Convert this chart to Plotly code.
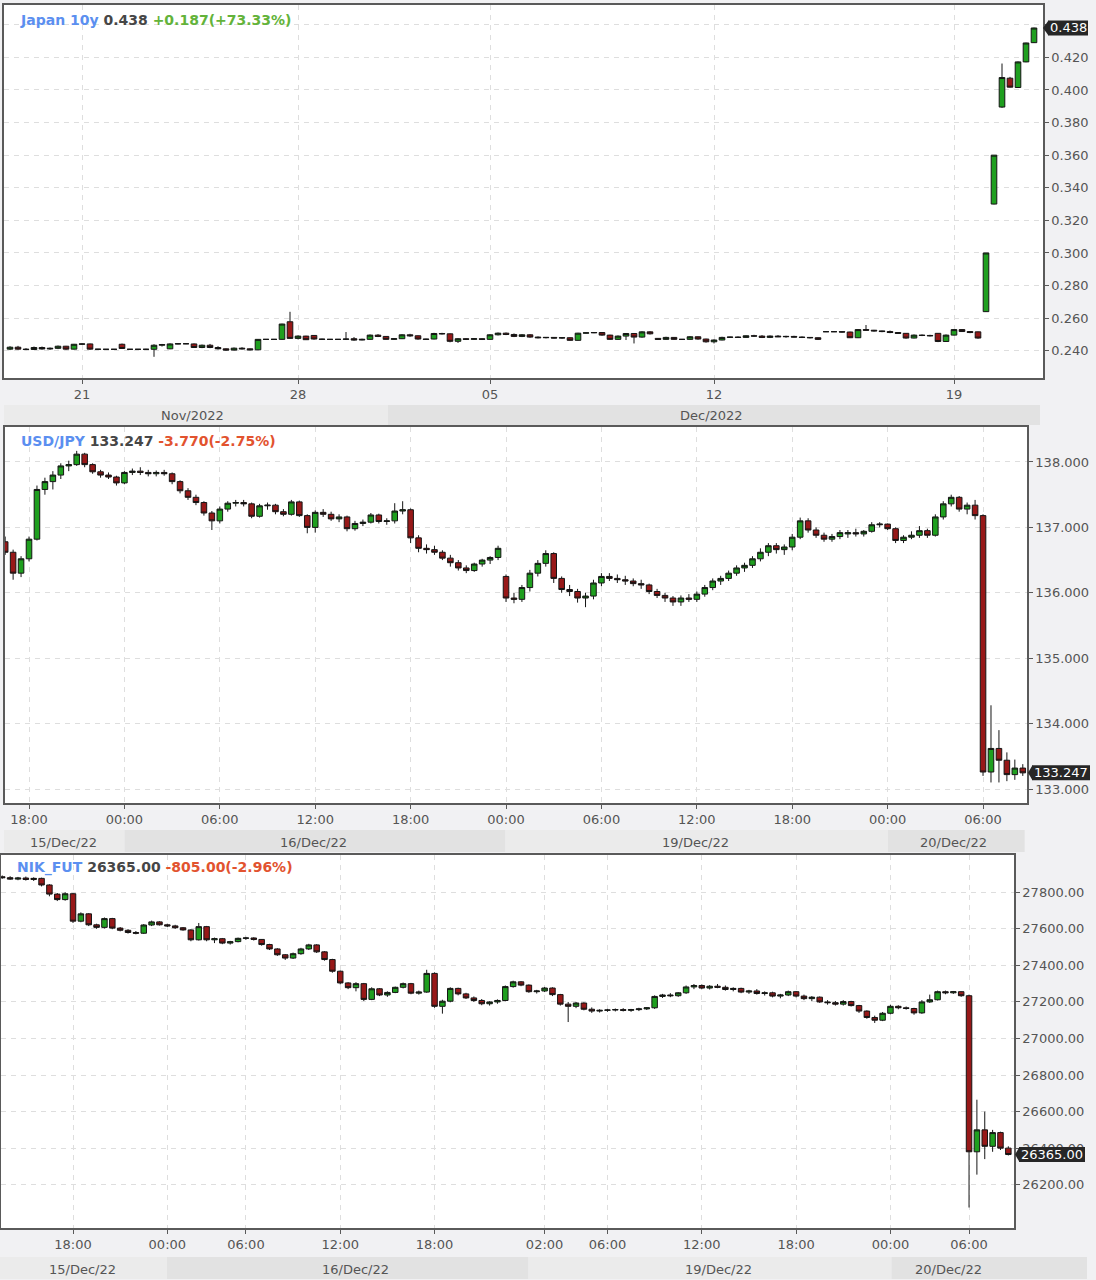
import plotly.graph_objects as go
import pandas as pd

W, H = 1096, 1280


def px(x):
    return x / W


def py(y):
    return 1 - y / H


# ======================= DATA =======================
# ---- Panel 1 : Japan 10y (bar sequence) ----
jgb_open = [.2410,.2422,.2410,.2408,.2420,.2411,.2415,.2428,.2410,.2440,
            .2442,.2410,.2409,.2409,.2440,.2409,.2409,.2409,.2409,.2434,
            .2412,.2442,.2443,.2442,.2420,.2434,.2420,.2412,.2404,.2416,
            .2412,.2406,.2470,.2470,.2470,.2578,.2476,.2490,.2494,.2472,
            .2470,.2470,.2470,.2474,.2466,.2470,.2496,.2488,.2470,.2474,
            .2498,.2492,.2472,.2472,.2506,.2504,.2458,.2474,.2470,.2474,
            .2470,.2498,.2508,.2500,.2488,.2498,.2484,.2480,.2482,.2478,
            .2480,.2464,.2508,.2510,.2512,.2496,.2470,.2490,.2506,.2484,
            .2516,.2476,.2470,.2482,.2470,.2470,.2486,.2472,.2455,.2466,
            .2482,.2484,.2482,.2492,.2490,.2482,.2490,.2486,.2488,.2484,
            .2482,.2480,.2517,.2517,.2517,.2515,.2480,.2530,.2526,.2522,
            .2518,.2512,.2507,.2478,.2496,.2494,.2507,.2457,.2496,.2530,
            .2518,.2516,.2640,.3300,.3895,.4072,.4015,.4172,.4290]
jgb_high = [.2428,.2430,.2416,.2426,.2426,.2420,.2432,.2430,.2442,.2446,
            .2444,.2411,.2409,.2409,.2444,.2409,.2409,.2412,.2440,.2442,
            .2446,.2445,.2445,.2445,.2438,.2442,.2428,.2415,.2420,.2422,
            .2414,.2472,.2470,.2470,.2566,.2639,.2494,.2492,.2496,.2474,
            .2470,.2470,.2515,.2484,.2474,.2500,.2502,.2490,.2478,.2502,
            .2504,.2494,.2474,.2510,.2510,.2506,.2478,.2478,.2478,.2476,
            .2502,.2512,.2512,.2506,.2502,.2502,.2488,.2484,.2484,.2484,
            .2482,.2510,.2512,.2514,.2514,.2498,.2494,.2508,.2508,.2520,
            .2520,.2478,.2486,.2484,.2472,.2490,.2488,.2474,.2470,.2486,
            .2486,.2488,.2494,.2498,.2496,.2494,.2496,.2492,.2492,.2488,
            .2484,.2482,.2519,.2519,.2520,.2517,.2533,.2558,.2528,.2524,
            .2524,.2514,.2509,.2500,.2500,.2498,.2509,.2500,.2533,.2532,
            .2520,.2518,.3000,.3600,.4162,.4080,.4175,.4290,.4382]
jgb_low = [.2404,.2406,.2404,.2405,.2407,.2406,.2410,.2406,.2408,.2436,
           .2406,.2408,.2409,.2409,.2412,.2409,.2409,.2406,.2363,.2426,
           .2410,.2440,.2441,.2418,.2416,.2416,.2408,.2400,.2402,.2408,
           .2402,.2404,.2470,.2470,.2468,.2474,.2470,.2466,.2468,.2468,
           .2470,.2470,.2466,.2462,.2464,.2468,.2484,.2468,.2467,.2472,
           .2486,.2468,.2468,.2470,.2500,.2452,.2448,.2466,.2468,.2466,
           .2468,.2494,.2496,.2484,.2484,.2480,.2476,.2476,.2476,.2474,
           .2462,.2462,.2506,.2508,.2492,.2468,.2467,.2466,.2445,.2480,
           .2500,.2469,.2468,.2468,.2468,.2468,.2468,.2450,.2445,.2464,
           .2480,.2480,.2480,.2486,.2478,.2478,.2484,.2480,.2482,.2478,
           .2476,.2466,.2515,.2515,.2512,.2478,.2478,.2524,.2518,.2514,
           .2508,.2504,.2474,.2476,.2490,.2488,.2453,.2455,.2494,.2516,
           .2508,.2474,.2638,.3298,.3890,.4015,.4012,.4170,.4288]
jgb_close = [.2422,.2410,.2408,.2420,.2411,.2415,.2428,.2410,.2440,.2442,
             .2410,.2409,.2409,.2409,.2414,.2409,.2409,.2409,.2434,.2438,
             .2442,.2443,.2443,.2420,.2434,.2420,.2412,.2404,.2416,.2412,
             .2406,.2470,.2470,.2470,.2564,.2476,.2490,.2468,.2472,.2470,
             .2470,.2470,.2472,.2466,.2470,.2496,.2488,.2470,.2474,.2498,
             .2492,.2472,.2470,.2506,.2504,.2458,.2474,.2470,.2474,.2470,
             .2498,.2508,.2500,.2488,.2498,.2484,.2480,.2482,.2478,.2480,
             .2464,.2508,.2510,.2512,.2496,.2470,.2490,.2506,.2484,.2516,
             .2504,.2470,.2482,.2470,.2470,.2486,.2472,.2455,.2466,.2482,
             .2484,.2482,.2492,.2490,.2482,.2490,.2486,.2488,.2484,.2482,
             .2480,.2470,.2517,.2517,.2515,.2480,.2530,.2526,.2522,.2518,
             .2512,.2507,.2478,.2496,.2494,.2492,.2457,.2496,.2530,.2518,
             .2512,.2478,.3000,.3600,.4076,.4017,.4172,.4288,.4380]
jgb_tick_bars = [9, 36, 60, 88, 118]
jgb_tick_text = ["21", "28", "05", "12", "19"]
jgb_yticks = [0.24, 0.26, 0.28, 0.30, 0.32, 0.34, 0.36, 0.38, 0.40, 0.42, 0.44]

# ---- Panel 2 : USD/JPY, 30-minute bars ----
usd_times = (list(pd.date_range("2022-12-15 16:30", "2022-12-16 23:30", freq="30min"))
             + list(pd.date_range("2022-12-19 00:00", "2022-12-20 08:30", freq="30min")))
usd_labels = [t.strftime("%Y-%m-%d %H:%M") for t in usd_times]
usd_open = [136.78,136.62,136.30,136.52,136.82,137.58,137.70,137.80,137.94,137.96,
            138.12,137.96,137.85,137.80,137.77,137.68,137.84,137.86,137.84,137.82,
            137.84,137.82,137.70,137.56,137.46,137.38,137.22,137.10,137.28,137.37,
            137.38,137.36,137.17,137.33,137.34,137.24,137.20,137.39,137.18,137.00,
            137.23,137.20,137.13,137.16,136.98,137.06,137.08,137.19,137.09,137.10,
            137.25,137.27,136.84,136.68,136.66,136.62,136.53,136.46,136.38,136.34,
            136.44,136.50,136.54,136.25,135.92,135.90,136.08,136.30,136.45,136.60,
            136.22,136.05,136.02,135.92,135.95,136.15,136.25,136.22,136.20,136.18,
            136.14,136.12,136.02,135.96,135.92,135.86,135.92,135.90,135.98,136.08,
            136.18,136.22,136.30,136.38,136.42,136.52,136.62,136.72,136.66,136.70,
            136.85,137.10,136.96,136.88,136.82,136.86,136.90,136.92,136.90,136.94,
            137.04,137.05,136.98,136.80,136.85,136.88,136.95,136.88,137.16,137.36,
            137.46,137.28,137.34,137.18,133.26,133.62,133.44,133.22,133.32]
usd_high = [136.86,136.66,136.56,136.86,137.64,137.76,137.86,137.98,138.02,138.17,
            138.14,137.98,137.88,137.84,137.79,137.86,137.90,137.92,137.88,137.87,
            137.88,137.84,137.72,137.60,137.50,137.40,137.25,137.32,137.40,137.42,
            137.42,137.38,137.36,137.38,137.36,137.28,137.42,137.41,137.20,137.26,
            137.28,137.24,137.20,137.18,137.10,137.12,137.22,137.21,137.14,137.37,
            137.40,137.29,136.88,136.74,136.72,136.65,136.58,136.50,136.42,136.46,
            136.52,136.56,136.72,136.28,136.00,136.12,136.35,136.50,136.65,136.62,
            136.25,136.12,136.06,136.00,136.20,136.30,136.30,136.28,136.26,136.22,
            136.20,136.14,136.06,136.00,135.95,135.96,135.98,136.02,136.12,136.22,
            136.26,136.34,136.42,136.46,136.56,136.68,136.76,136.76,136.74,136.90,
            137.15,137.14,137.00,136.92,136.90,136.96,136.96,136.98,136.96,137.08,
            137.08,137.06,137.00,136.88,136.94,137.02,136.98,137.20,137.40,137.50,
            137.48,137.38,137.42,137.20,134.28,133.90,133.56,133.45,133.38]
usd_low = [136.58,136.20,136.24,136.48,136.80,137.50,137.58,137.74,137.86,137.94,
           137.92,137.82,137.76,137.74,137.64,137.66,137.80,137.80,137.78,137.78,
           137.79,137.66,137.52,137.42,137.34,137.18,136.96,137.06,137.24,137.32,
           137.32,137.14,137.15,137.27,137.20,137.17,137.18,137.16,136.91,136.92,
           137.16,137.10,137.08,136.94,136.95,137.02,137.06,137.06,137.04,137.06,
           137.20,136.76,136.62,136.60,136.58,136.50,136.40,136.34,136.30,136.32,
           136.40,136.44,136.50,135.86,135.84,135.86,136.02,136.25,136.40,136.15,
           136.00,135.95,135.85,135.78,135.90,136.10,136.18,136.15,136.12,136.10,
           136.06,135.98,135.92,135.86,135.80,135.80,135.86,135.86,135.94,136.04,
           136.12,136.18,136.26,136.32,136.38,136.48,136.56,136.60,136.58,136.65,
           136.82,136.92,136.84,136.78,136.78,136.82,136.84,136.86,136.86,136.92,
           137.00,136.96,136.76,136.76,136.82,136.84,136.84,136.86,137.12,137.32,
           137.24,137.20,137.12,133.20,133.10,133.10,133.12,133.14,133.20]
usd_close = [136.62,136.30,136.52,136.82,137.58,137.70,137.80,137.94,137.96,138.12,
             137.96,137.85,137.80,137.77,137.68,137.84,137.86,137.84,137.82,137.84,
             137.82,137.70,137.56,137.46,137.38,137.22,137.10,137.28,137.37,137.38,
             137.36,137.17,137.33,137.34,137.24,137.20,137.39,137.18,137.00,137.23,
             137.20,137.13,137.16,136.98,137.06,137.08,137.19,137.09,137.10,137.25,
             137.27,136.84,136.68,136.66,136.62,136.53,136.46,136.38,136.34,136.44,
             136.50,136.54,136.68,135.92,135.90,136.08,136.30,136.45,136.60,136.22,
             136.05,136.02,135.92,135.95,136.15,136.25,136.22,136.20,136.18,136.14,
             136.12,136.02,135.96,135.92,135.86,135.92,135.90,135.98,136.08,136.18,
             136.22,136.30,136.38,136.42,136.52,136.62,136.72,136.66,136.70,136.85,
             137.10,136.96,136.88,136.82,136.86,136.92,136.92,136.90,136.94,137.04,
             137.05,136.98,136.80,136.85,136.88,136.95,136.88,137.16,137.36,137.46,
             137.28,137.34,137.18,133.26,133.62,133.44,133.22,133.32,133.247]
usd_tick_times = ["2022-12-15 18:00", "2022-12-16 00:00", "2022-12-16 06:00", "2022-12-16 12:00",
                  "2022-12-16 18:00", "2022-12-19 00:00", "2022-12-19 06:00", "2022-12-19 12:00",
                  "2022-12-19 18:00", "2022-12-20 00:00", "2022-12-20 06:00"]
usd_yticks = [133, 134, 135, 136, 137, 138]

# ---- Panel 3 : NIK_FUT, 30-minute bars (session gaps removed) ----
nik_times = (list(pd.date_range("2022-12-15 13:30", "2022-12-16 03:30", freq="30min"))
             + list(pd.date_range("2022-12-16 05:00", "2022-12-16 23:30", freq="30min"))
             + list(pd.date_range("2022-12-19 01:00", "2022-12-20 03:30", freq="30min"))
             + list(pd.date_range("2022-12-20 05:00", "2022-12-20 08:30", freq="30min")))
nik_labels = [t.strftime("%Y-%m-%d %H:%M") for t in nik_times]
nik_open = [27885,27880,27872,27878,27870,27876,27840,27790,27760,27792,
            27642,27682,27622,27608,27656,27604,27592,27580,27576,27621,
            27638,27622,27616,27606,27594,27540,27612,27540,27546,27522,
            27530,27548,27550,27542,27514,27490,27458,27440,27464,27490,
            27512,27474,27432,27368,27304,27278,27300,27214,27272,27238,
            27252,27280,27300,27248,27254,27356,27176,27204,27274,27244,
            27222,27208,27190,27200,27208,27284,27310,27292,27256,27260,
            27276,27240,27188,27176,27194,27160,27150,27154,27156,27158,
            27154,27158,27162,27168,27230,27238,27234,27250,27282,27290,
            27276,27286,27280,27268,27274,27254,27260,27246,27250,27232,
            27238,27256,27232,27218,27226,27200,27196,27188,27202,27180,
            27150,27115,27100,27138,27176,27168,27164,27140,27200,27212,
            27256,27250,27256,27234,26380,26500,26410,26485,26400]
nik_high = [27892,27888,27884,27886,27882,27880,27844,27796,27800,27796,
            27690,27686,27628,27662,27660,27610,27598,27588,27626,27645,
            27642,27628,27622,27610,27598,27632,27616,27552,27550,27534,
            27552,27556,27554,27544,27518,27494,27462,27470,27496,27518,
            27516,27478,27436,27372,27308,27308,27304,27280,27276,27258,
            27284,27306,27304,27262,27376,27362,27212,27280,27278,27250,
            27230,27216,27204,27214,27290,27316,27314,27296,27266,27282,
            27280,27244,27200,27200,27198,27170,27160,27162,27164,27166,
            27162,27168,27172,27236,27244,27248,27254,27290,27298,27296,
            27292,27298,27290,27280,27278,27266,27270,27258,27256,27244,
            27262,27260,27240,27232,27230,27210,27205,27210,27206,27184,
            27154,27125,27145,27185,27182,27175,27168,27210,27240,27262,
            27262,27260,27258,27240,26665,26600,26500,26490,26410]
nik_low = [27874,27868,27866,27864,27862,27832,27778,27752,27754,27632,
           27636,27615,27600,27602,27598,27586,27574,27570,27572,27615,
           27618,27610,27600,27590,27532,27536,27532,27522,27516,27514,
           27526,27540,27536,27508,27484,27452,27430,27435,27458,27484,
           27468,27426,27360,27296,27270,27258,27205,27210,27232,27228,
           27248,27274,27242,27240,27250,27168,27136,27198,27236,27216,
           27200,27182,27180,27190,27204,27278,27286,27250,27246,27254,
           27232,27180,27090,27166,27154,27140,27142,27146,27148,27148,
           27146,27150,27156,27162,27222,27226,27228,27244,27270,27270,
           27268,27275,27262,27258,27248,27244,27240,27235,27225,27220,
           27232,27225,27210,27205,27195,27185,27180,27180,27175,27140,
           27108,27085,27095,27132,27160,27158,27130,27135,27195,27208,
           27242,27244,27228,26075,26255,26340,26380,26390,26360]
nik_close = [27880,27872,27878,27870,27876,27840,27790,27760,27792,27642,
             27682,27622,27608,27656,27604,27592,27580,27576,27621,27638,
             27622,27616,27606,27594,27540,27612,27540,27546,27522,27530,
             27548,27550,27542,27514,27490,27458,27440,27464,27490,27512,
             27474,27432,27368,27304,27278,27300,27214,27272,27238,27252,
             27280,27300,27248,27254,27356,27176,27204,27274,27244,27222,
             27208,27190,27200,27208,27284,27310,27292,27256,27260,27276,
             27240,27188,27176,27194,27160,27150,27154,27156,27158,27154,
             27158,27162,27168,27230,27238,27234,27250,27282,27290,27276,
             27286,27280,27268,27274,27254,27260,27246,27250,27232,27238,
             27256,27232,27218,27226,27200,27196,27188,27202,27180,27150,
             27115,27100,27138,27176,27168,27164,27140,27200,27212,27256,
             27250,27256,27234,26380,26500,26410,26485,26400,26365]
nik_tick_times = ["2022-12-15 18:00", "2022-12-16 00:00", "2022-12-16 06:00", "2022-12-16 12:00",
                  "2022-12-16 18:00", "2022-12-19 02:00", "2022-12-19 06:00", "2022-12-19 12:00",
                  "2022-12-19 18:00", "2022-12-20 00:00", "2022-12-20 06:00"]
nik_yticks = [26200, 26400, 26600, 26800, 27000, 27200, 27400, 27600, 27800]

# ======================= STYLE / LAYOUT =======================
FONT = "DejaVu Sans"
AX = "#5a5a5a"
TXT = "#555555"
GRID = "#dedede"
BG = "#f1f1f3"
BAND_L = "#ebebeb"
BAND_D = "#e2e2e2"

P1 = dict(x0=4, x1=1043, y0=5, y1=378, yr=[0.2233, 0.4521], xr=[-0.75, 129.125])
P2 = dict(x0=5, x1=1027, y0=427, y1=803, yr=[132.786, 138.535], xr=[-0.02, 128.53])
P3 = dict(x0=1, x1=1014, y0=855, y1=1228, yr=[25963, 28004], xr=[-0.16, 128.72])

inc = dict(line=dict(color="#151515", width=1), fillcolor="#1f9f1f")
dec = dict(line=dict(color="#151515", width=1), fillcolor="#971818")

fig = go.Figure()
fig.add_trace(go.Candlestick(x=list(range(len(jgb_close))), open=jgb_open, high=jgb_high,
                             low=jgb_low, close=jgb_close, xaxis="x", yaxis="y",
                             increasing=inc, decreasing=dec, whiskerwidth=0,
                             showlegend=False, hoverinfo="skip"))
fig.add_trace(go.Candlestick(x=usd_labels, open=usd_open, high=usd_high, low=usd_low,
                             close=usd_close, xaxis="x2", yaxis="y2",
                             increasing=inc, decreasing=dec, whiskerwidth=0,
                             showlegend=False, hoverinfo="skip"))
fig.add_trace(go.Candlestick(x=nik_labels, open=nik_open, high=nik_high, low=nik_low,
                             close=nik_close, xaxis="x3", yaxis="y3",
                             increasing=inc, decreasing=dec, whiskerwidth=0,
                             showlegend=False, hoverinfo="skip"))


def xaxis_cfg(P, anchor, tickvals, ticktext, cat=False):
    d = dict(domain=[px(P["x0"]), px(P["x1"])], range=P["xr"], anchor=anchor,
             tickmode="array", tickvals=tickvals, ticktext=ticktext,
             showgrid=True, gridcolor=GRID, griddash="5px,5px", gridwidth=1,
             showline=True, mirror=True, linecolor=AX, linewidth=1.5,
             ticks="outside", ticklen=4, tickcolor=AX, tickwidth=1,
             tickfont=dict(family=FONT, size=13, color=TXT),
             rangeslider=dict(visible=False), zeroline=False, fixedrange=True)
    if cat:
        d["type"] = "category"
    return d


def yaxis_cfg(P, anchor, tickvals, ticktext):
    return dict(domain=[py(P["y1"]), py(P["y0"])], range=P["yr"], anchor=anchor,
                side="right", tickmode="array", tickvals=tickvals, ticktext=ticktext,
                showgrid=True, gridcolor=GRID, griddash="5px,5px", gridwidth=1,
                showline=True, mirror=True, linecolor=AX, linewidth=1.5,
                ticks="outside", ticklen=4, tickcolor=AX, tickwidth=1,
                tickfont=dict(family=FONT, size=13, color=TXT),
                zeroline=False, fixedrange=True)


jgb_ytext = ["%.3f" % v for v in jgb_yticks[:-1]] + [""]
fig.update_layout(
    xaxis=xaxis_cfg(P1, "y", jgb_tick_bars, jgb_tick_text),
    yaxis=yaxis_cfg(P1, "x", jgb_yticks, jgb_ytext),
    xaxis2=xaxis_cfg(P2, "y2", usd_tick_times, [t[-5:] for t in usd_tick_times], cat=True),
    yaxis2=yaxis_cfg(P2, "x2", usd_yticks, ["%.3f" % v for v in usd_yticks]),
    xaxis3=xaxis_cfg(P3, "y3", nik_tick_times, [t[-5:] for t in nik_tick_times], cat=True),
    yaxis3=yaxis_cfg(P3, "x3", nik_yticks, ["%.2f" % v for v in nik_yticks]),
)

shapes = []
annotations = []

# date bands below each panel: (label, x0, x1, colour)
bands = [
    (405, 425, [("Nov/2022", 4, 388, BAND_L), ("Dec/2022", 388, 1040, BAND_D)]),
    (830, 852, [("15/Dec/22", 4, 124.6, BAND_L), ("16/Dec/22", 124.6, 505.5, BAND_D),
                ("19/Dec/22", 505.5, 888, BAND_L), ("20/Dec/22", 888, 1024.7, BAND_D)]),
    (1257, 1279, [("15/Dec/22", 0, 167, BAND_L), ("16/Dec/22", 167, 528.5, BAND_D),
                  ("19/Dec/22", 528.5, 891.6, BAND_L), ("20/Dec/22", 891.6, 1087, BAND_D)]),
]
band_label_x = {(405, "Nov/2022"): 192, (405, "Dec/2022"): 711,
                (830, "15/Dec/22"): 63, (830, "16/Dec/22"): 313, (830, "19/Dec/22"): 695, (830, "20/Dec/22"): 953,
                (1257, "15/Dec/22"): 82, (1257, "16/Dec/22"): 355, (1257, "19/Dec/22"): 718, (1257, "20/Dec/22"): 948}
for (yt, yb, items) in bands:
    for (lab, x0, x1, col) in items:
        shapes.append(dict(type="rect", xref="paper", yref="paper", x0=px(x0), x1=px(x1),
                           y0=py(yb), y1=py(yt), fillcolor=col, line=dict(width=0), layer="below"))
        annotations.append(dict(text=lab, xref="paper", yref="paper",
                                x=px(band_label_x[(yt, lab)]), y=py((yt + yb) / 2 + 1),
                                xanchor="center", yanchor="middle", showarrow=False,
                                font=dict(family=FONT, size=13, color=TXT)))


# last-price boxes
def val_to_py(P, v):
    r0, r1 = P["yr"]
    return P["y1"] - (v - r0) / (r1 - r0) * (P["y1"] - P["y0"])


def price_box(P, v, text, tip, rx0, rx1, h=15):
    yc = val_to_py(P, v)
    shapes.append(dict(type="rect", xref="paper", yref="paper", x0=px(rx0), x1=px(rx1),
                       y0=py(yc + h / 2), y1=py(yc - h / 2), fillcolor="#262626",
                       line=dict(width=0), layer="above"))
    path = "M %f,%f L %f,%f L %f,%f Z" % (px(tip), py(yc), px(rx0 + 0.5), py(yc - h / 2),
                                          px(rx0 + 0.5), py(yc + h / 2))
    shapes.append(dict(type="path", xref="paper", yref="paper", path=path,
                       fillcolor="#262626", line=dict(width=0), layer="above"))
    annotations.append(dict(text=text, xref="paper", yref="paper", x=px((rx0 + rx1) / 2),
                            y=py(yc), xanchor="center", yanchor="middle", showarrow=False,
                            font=dict(family=FONT, size=13, color="#ffffff")))


price_box(P1, jgb_close[-1], "%.3f" % jgb_close[-1], 1043, 1048, 1088)
price_box(P2, usd_close[-1], "%.3f" % usd_close[-1], 1028, 1032, 1090)
price_box(P3, nik_close[-1], "%.2f" % nik_close[-1], 1015, 1019, 1085)

# panel titles
BLUE = "#5b8ff0"
DARK = "#464646"
GREEN = "#63b33a"
RED = "#e2532f"
titles = [
    (18, 20, "Japan 10y", "0.438", "+0.187(+73.33%)", GREEN),
    (19, 441, "USD/JPY", "133.247", "-3.770(-2.75%)", RED),
    (15, 867, "NIK_FUT", "26365.00", "-805.00(-2.96%)", RED),
]
for (x, y, name, last, chg, col) in titles:
    txt = ("<b><span style='color:%s'>%s</span> <span style='color:%s'>%s</span> "
           "<span style='color:%s'>%s</span></b>" % (BLUE, name, DARK, last, col, chg))
    annotations.append(dict(text=txt, xref="paper", yref="paper", x=px(x), y=py(y),
                            xanchor="left", yanchor="middle", showarrow=False,
                            font=dict(family=FONT, size=14)))

fig.update_layout(
    width=W, height=H, autosize=False,
    margin=dict(l=0, r=0, t=0, b=0),
    paper_bgcolor=BG, plot_bgcolor="#ffffff",
    showlegend=False, hovermode=False,
    boxgap=0.3, boxgroupgap=0,
    shapes=shapes, annotations=annotations,
    font=dict(family=FONT, size=13, color=TXT),
)

fig.write_html("out.html", config={"displayModeBar": False},
               post_script="document.body.style.margin='0';document.body.style.overflow='hidden';")
